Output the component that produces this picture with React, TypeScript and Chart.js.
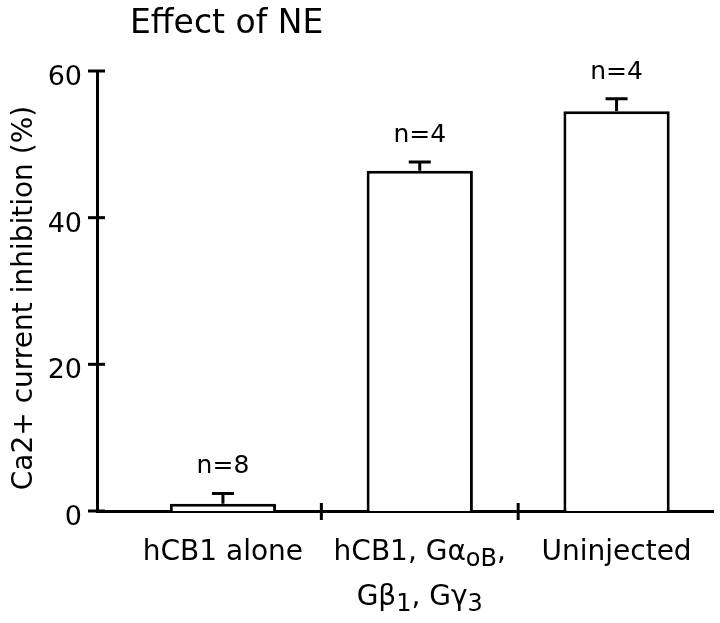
import React, { useEffect, useRef } from 'react';
import { Chart, registerables } from 'chart.js';

Chart.register(...registerables);

// ---- data ----
const categories = ['hCB1 alone', 'hCB1, GαoB, Gβ1, Gγ3', 'Uninjected'];
// label lines with _{...} marking subscripts
const categoryLines = [
  ['hCB1 alone'],
  ['hCB1, Gα_{oB},', 'Gβ_{1}, Gγ_{3}'],
  ['Uninjected'],
];
const inhibition = [1.0, 46.4, 54.5];
const sem = [1.4, 1.2, 1.7];
const nLabels = ['n=8', 'n=4', 'n=4'];
const yTicks = [0, 20, 40, 60];
const chartTitle = 'Effect of NE';
const yTitle = 'Ca2+ current inhibition (%)';

const FONT = '"DejaVu Sans", sans-serif';

type Seg = { t: string; sub: boolean };
function parseSegs(s: string): Seg[] {
  const out: Seg[] = [];
  const re = /_\{([^}]*)\}/g;
  let last = 0;
  let m: RegExpExecArray | null;
  while ((m = re.exec(s))) {
    if (m.index > last) out.push({ t: s.slice(last, m.index), sub: false });
    out.push({ t: m[1], sub: true });
    last = m.index + m[0].length;
  }
  if (last < s.length) out.push({ t: s.slice(last), sub: false });
  return out;
}

const decorPlugin = {
  id: 'decor',
  afterDatasetsDraw(chart: any) {
    const ctx: CanvasRenderingContext2D = chart.ctx;
    const xs = chart.scales.x;
    const ys = chart.scales.y;
    const meta = chart.getDatasetMeta(0);
    const area = chart.chartArea;
    ctx.save();
    ctx.strokeStyle = '#000';
    ctx.fillStyle = '#000';
    ctx.lineWidth = 3;
    ctx.lineCap = 'butt';

    // error bars + n labels
    meta.data.forEach((el: any, i: number) => {
      const base = ys.getPixelForValue(inhibition[i]);
      const top = ys.getPixelForValue(inhibition[i] + sem[i]);
      ctx.beginPath();
      ctx.moveTo(el.x, base);
      ctx.lineTo(el.x, top);
      ctx.moveTo(el.x - 11, top);
      ctx.lineTo(el.x + 11, top);
      ctx.stroke();
      ctx.font = `25px ${FONT}`;
      ctx.textAlign = 'center';
      ctx.textBaseline = 'alphabetic';
      ctx.fillText(nLabels[i], el.x, top - 20);
    });

    // y tick marks crossing the axis
    yTicks.forEach((v) => {
      const py = ys.getPixelForValue(v);
      ctx.beginPath();
      ctx.moveTo(area.left - 9, py);
      ctx.lineTo(area.left + 8, py);
      ctx.stroke();
    });

    // x tick marks between categories
    for (let i = 0; i < categories.length - 1; i++) {
      const px = xs.getPixelForValue(i + 0.5);
      ctx.beginPath();
      ctx.moveTo(px, area.bottom - 8);
      ctx.lineTo(px, area.bottom + 9);
      ctx.stroke();
    }

    // x category labels with subscripts
    const mainFont = `28px ${FONT}`;
    const subFont = `24px ${FONT}`;
    ctx.textAlign = 'left';
    ctx.textBaseline = 'alphabetic';
    categoryLines.forEach((lines, i) => {
      const cx = xs.getPixelForValue(i);
      lines.forEach((line, li) => {
        const segs = parseSegs(line);
        let total = 0;
        const widths = segs.map((s) => {
          ctx.font = s.sub ? subFont : mainFont;
          const w = ctx.measureText(s.t).width;
          total += w;
          return w;
        });
        let x = cx - total / 2;
        const baseY = area.bottom + 49 + li * 45;
        segs.forEach((s, si) => {
          ctx.font = s.sub ? subFont : mainFont;
          ctx.fillText(s.t, x, s.sub ? baseY + 6 : baseY);
          x += widths[si];
        });
      });
    });

    // chart title
    ctx.font = `33px ${FONT}`;
    ctx.textAlign = 'left';
    ctx.fillText(chartTitle, 130, 33);

    // y axis title
    ctx.save();
    ctx.translate(25, 298);
    ctx.rotate(-Math.PI / 2);
    ctx.font = `28px ${FONT}`;
    ctx.textAlign = 'center';
    ctx.textBaseline = 'middle';
    ctx.fillText(yTitle, 0, 0);
    ctx.restore();

    ctx.restore();
  },
};

export default function App() {
  const canvasRef = useRef<HTMLCanvasElement | null>(null);

  useEffect(() => {
    if (!canvasRef.current) return;
    const chart = new Chart(canvasRef.current, {
      type: 'bar',
      data: {
        datasets: [
          {
            label: 'Inhibition',
            data: inhibition.map((v, i) => ({ x: i, y: v })),
            backgroundColor: '#ffffff',
            borderColor: '#000000',
            borderWidth: 3,
            borderSkipped: 'bottom',
            barPercentage: 0.54,
            categoryPercentage: 1,
          } as any,
        ],
      },
      options: {
        animation: false,
        responsive: true,
        maintainAspectRatio: false,
        layout: { padding: { top: 71, right: 7, bottom: 0, left: 0 } },
        plugins: {
          legend: { display: false },
          tooltip: { enabled: false },
          title: { display: false },
        },
        scales: {
          x: {
            type: 'linear',
            min: -0.64,
            max: 2.49,
            offset: false,
            afterBuildTicks: (s: any) => {
              s.ticks = categories.map((_, i) => ({ value: i }));
            },
            afterFit: (s: any) => {
              s.height = 112;
            },
            ticks: { display: false },
            grid: { display: false, drawTicks: false },
            border: { display: true, color: '#000', width: 3 },
          },
          y: {
            type: 'linear',
            min: 0,
            max: 60,
            afterBuildTicks: (s: any) => {
              s.ticks = yTicks.map((v) => ({ value: v }));
            },
            afterFit: (s: any) => {
              s.width = 97;
            },
            ticks: {
              color: '#000',
              font: { family: FONT, size: 27 },
              padding: 15,
              labelOffset: 7,
            },
            grid: { display: false, drawTicks: false },
            border: { display: true, color: '#000', width: 3 },
          },
        },
      } as any,
      plugins: [decorPlugin],
    });
    return () => chart.destroy();
  }, []);

  return (
    <div style={{ position: 'fixed', left: 0, top: 0, width: 720, height: 623, background: '#fff' }}>
      <canvas ref={canvasRef} style={{ display: 'block' }} />
    </div>
  );
}
